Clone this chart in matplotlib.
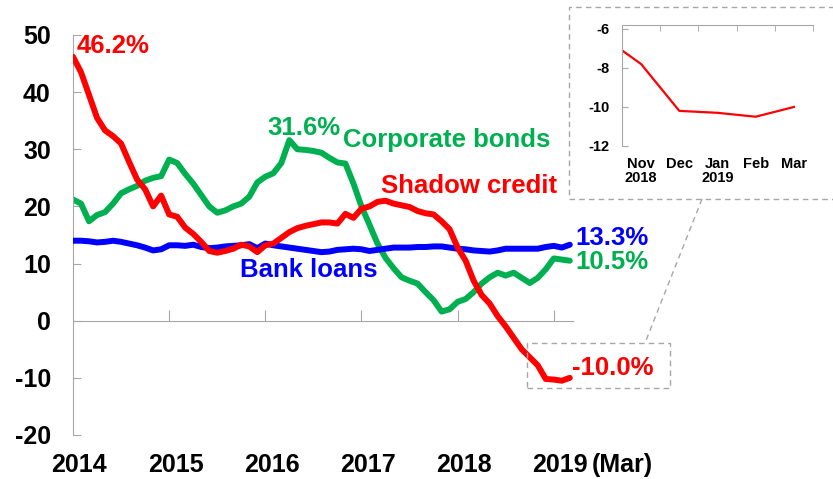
import numpy as np
import matplotlib
matplotlib.use("Agg")
import matplotlib.pyplot as plt
from matplotlib.patches import Rectangle
from matplotlib.lines import Line2D

plt.rcParams['font.family'] = ['Liberation Sans', 'DejaVu Sans']
plt.rcParams['font.weight'] = 'bold'
plt.rcParams['axes.unicode_minus'] = False

# monthly growth, % y/y, Jan 2014 .. Mar 2019
shadow = [46.2, 43.5, 39.5, 35.5, 33.3, 32.3, 31.0, 27.8, 24.7, 23.0,
          20.0, 21.9, 18.6, 18.2, 16.3, 15.2, 13.8, 12.2, 11.9, 12.2,
          12.6, 13.3, 13.0, 12.0, 13.2, 13.5, 14.5, 15.5, 16.2, 16.6,
          16.9, 17.2, 17.2, 17.0, 18.7, 18.0, 19.6, 20.0, 20.8, 21.0,
          20.5, 20.2, 19.9, 19.2, 18.8, 18.6, 17.4, 16.0, 12.8, 10.5,
          7.0, 4.5, 3.0, 0.8, -1.0, -3.0, -5.0, -6.4, -7.8, -10.2,
          -10.3, -10.5, -10.0]
bonds = [21.2, 20.5, 17.4, 18.5, 19.0, 20.5, 22.3, 23.0, 23.6, 24.5,
         25.0, 25.3, 28.2, 27.6, 25.7, 24.0, 22.0, 20.0, 18.9, 19.3,
         20.0, 20.5, 21.7, 24.2, 25.2, 25.8, 27.6, 31.6, 30.0, 29.9,
         29.7, 29.4, 28.5, 27.7, 27.5, 24.0, 20.0, 16.8, 13.5, 11.0,
         9.2, 7.6, 7.0, 6.5, 5.0, 3.6, 1.6, 2.0, 3.3, 3.8,
         5.0, 6.5, 7.6, 8.4, 7.9, 8.4, 7.5, 6.6, 7.5, 9.0,
         10.9, 10.7, 10.5]
loans = [14.0, 14.0, 13.9, 13.7, 13.8, 14.0, 13.8, 13.5, 13.2, 12.8,
         12.3, 12.5, 13.2, 13.2, 13.1, 13.3, 12.9, 12.7, 12.8, 13.0,
         13.1, 13.2, 13.4, 12.7, 13.5, 13.2, 13.0, 12.8, 12.6, 12.4,
         12.2, 12.0, 12.1, 12.4, 12.5, 12.6, 12.5, 12.2, 12.4, 12.6,
         12.8, 12.8, 12.8, 12.9, 12.9, 13.0, 13.0, 12.8, 12.6, 12.5,
         12.3, 12.2, 12.1, 12.3, 12.6, 12.6, 12.6, 12.6, 12.6, 12.9,
         13.1, 12.8, 13.3]
years = ["2014", "2015", "2016", "2017", "2018", "2019"]
inset_labels = ["Nov\n2018", "Dec", "Jan\n2019", "Feb", "Mar"]

RED, GREEN, BLUE = '#ff0000', '#00b050', '#0000ff'
GRAY = '#a6a6a6'

fig = plt.figure(figsize=(8.33, 4.79), dpi=100)
ax = fig.add_axes([73 / 833, 44 / 479, 500 / 833, 400 / 479])

months = np.arange(len(shadow))
kw = dict(lw=4.3, solid_joinstyle='round', solid_capstyle='round')
ax.plot(months, bonds, color=GREEN, zorder=2, **kw)
ax.plot(months, loans, color=BLUE, zorder=3, **kw)
ax.plot(months, shadow, color=RED, zorder=4, **kw)

ax.set_xlim(0, 62.4)
ax.set_ylim(-20, 50)
for s in ['top', 'right']:
    ax.spines[s].set_visible(False)
ax.spines['bottom'].set_position(('data', 0))
ax.spines['bottom'].set_color(GRAY)
ax.spines['left'].set_color(GRAY)
ax.set_yticks(range(-20, 51, 10))
ax.tick_params(axis='y', direction='in', length=6, color=GRAY, labelsize=18, pad=16)
year_pos = np.arange(len(years)) * 12
ax.set_xticks(year_pos[1:])
ax.tick_params(axis='x', direction='in', length=8, color=GRAY, labelbottom=False)

tr = ax.get_xaxis_transform()
for x, lab in zip(year_pos, years):
    ax.text(x + 0.8, -0.075, lab, transform=tr, ha='center', va='center', fontsize=18)
ax.annotate("(Mar)", xy=(year_pos[-1] + 0.8, -0.075), xycoords=tr,
            xytext=(23, 0), textcoords='offset points', ha='left', va='center', fontsize=18)

fs = 18.5
ax.text(0.4, 48.0, "46.2%", color=RED, fontsize=fs, va='center')
ax.text(24.2, 33.8, "31.6%", color=GREEN, fontsize=fs, va='center')
ax.text(33.7, 31.6, "Corporate bonds", color=GREEN, fontsize=fs, va='center')
ax.text(38.5, 23.6, "Shadow credit", color=RED, fontsize=fs, va='center')
ax.text(20.8, 8.8, "Bank loans", color=BLUE, fontsize=fs, va='center')
ax.text(62.7, 14.4, "13.3%", color=BLUE, fontsize=fs, va='center', clip_on=False)
ax.text(62.7, 10.2, "10.5%", color=GREEN, fontsize=fs, va='center', clip_on=False)
ax.text(62.3, -8.2, "-10.0%", color=RED, fontsize=fs, va='center', clip_on=False)

# dashed call-out boxes
dash = (0, (4, 3))
fig.patches.append(Rectangle((569 / 833, 280 / 479), 300 / 833, 192 / 479, transform=fig.transFigure,
                             fill=False, ec=GRAY, lw=1, ls=dash))
fig.patches.append(Rectangle((527 / 833, 91 / 479), 143 / 833, 45 / 479, transform=fig.transFigure,
                             fill=False, ec=GRAY, lw=1, ls=dash))
fig.lines.append(Line2D([702 / 833, 645 / 833], [280 / 479, 136 / 479], transform=fig.transFigure,
                        color=GRAY, lw=1, ls=dash))

# inset: last months of shadow credit
iax = fig.add_axes([622 / 833, 333 / 479, 191 / 833, 121 / 479])
ix = np.arange(-1, len(inset_labels))
iax.plot(ix, shadow[-len(ix):], color=RED, lw=1.6)
iax.set_xlim(-0.5, len(inset_labels) - 0.5)
iax.set_ylim(-12, -5.8)
iax.spines['right'].set_visible(False)
iax.spines['bottom'].set_visible(False)
iax.spines['top'].set_color(GRAY)
iax.spines['left'].set_color(GRAY)
iax.set_yticks([-12, -10, -8, -6])
iax.tick_params(axis='y', direction='in', length=4, color=GRAY, labelsize=10.5, pad=9)
iax.set_xticks(np.arange(len(inset_labels)))
iax.set_xticklabels(inset_labels, fontsize=10.5, linespacing=1.0)
iax.tick_params(axis='x', which='major', length=0, pad=8)
iax.set_xticks(np.arange(len(inset_labels)) + 0.5, minor=True)
iax.tick_params(axis='x', which='minor', bottom=False, top=True, direction='in', length=4, color=GRAY)

fig.savefig("out.png", dpi=100)
